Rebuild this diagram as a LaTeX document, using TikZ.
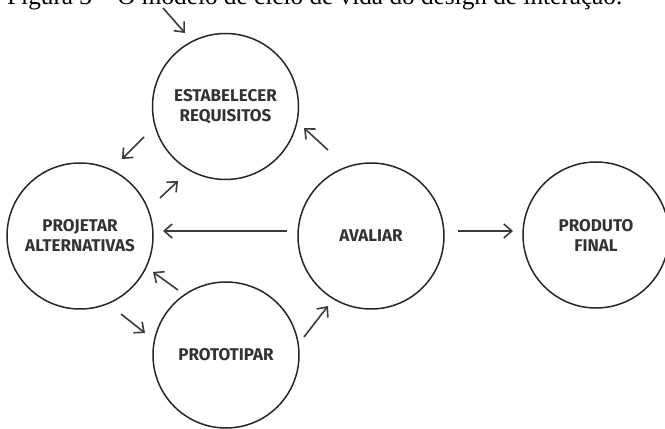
\documentclass[tikz,border=0pt]{standalone}
\usepackage{graphicx}
\usepackage{fontspec}
\setmainfont{Liberation Serif}
\newfontfamily\labelfont{Fira Sans}
\usetikzlibrary{arrows.meta,calc}
\definecolor{ink}{HTML}{262626}
\definecolor{arrowink}{HTML}{3A3A3A}
\definecolor{labelink}{HTML}{333333}
\begin{document}
\begin{tikzpicture}[x=1pt,y=1pt,
  stage/.style={circle, draw=ink, line width=1.5pt, minimum size=146pt,
    inner sep=0pt, align=center, text=labelink,
    font=\labelfont\bfseries\fontsize{17}{20}\selectfont},
  flow/.style={draw=arrowink, line width=1.6pt,
    -{Straight Barb[length=8pt,width=14pt,line width=1.6pt]}}]
\useasboundingbox (0,0) rectangle (665,429);
\clip (0,0) rectangle (665,429);

% caption, partly cut by the top edge
\node[anchor=base west, inner sep=0pt] (caption) at (7,424)
  {\resizebox{615pt}{!}{Figura 3 – O modelo de ciclo de vida do design de interação.}};

% stages of the cycle
\node[stage] (estab) at (225.5,322.5) {ESTABELECER\\REQUISITOS};
\node[stage] (proj)  at (80,193)      {PROJETAR\\ALTERNATIVAS};
\node[stage] (aval)  at (371,193)     {AVALIAR};
\node[stage] (proto) at (226,74)      {PROTOTIPAR};
\node[stage] (prod)  at (596,194)     {PRODUTO\\FINAL};

% entry point of the cycle
\coordinate (entry) at (163,421);

% connectors
\draw[flow] (entry) -- ($(estab)+(-40.5,73.5)$);
\draw[flow] ($(estab)+(-81.5,-30.5)$) -- ($(proj)+(42,77)$);
\draw[flow] ($(proj)+(80,38)$) -- ($(estab)+(-47.5,-74.5)$);
\draw[flow] ($(aval)+(-84,5)$) -- ($(proj)+(83,5)$);
\draw[flow] ($(proto)+(-48,65)$) -- ($(proj)+(73,-36)$);
\draw[flow] ($(proj)+(41,-78)$) -- ($(proto)+(-81,22)$);
\draw[flow] ($(proto)+(78,18)$) -- ($(aval)+(-43,-70)$);
\draw[flow] ($(aval)+(-43,86)$) -- ($(estab)+(78.5,-21.5)$);
\draw[flow] ($(aval)+(87,5)$) -- ($(prod)+(-83,4)$);
\end{tikzpicture}
\end{document}
